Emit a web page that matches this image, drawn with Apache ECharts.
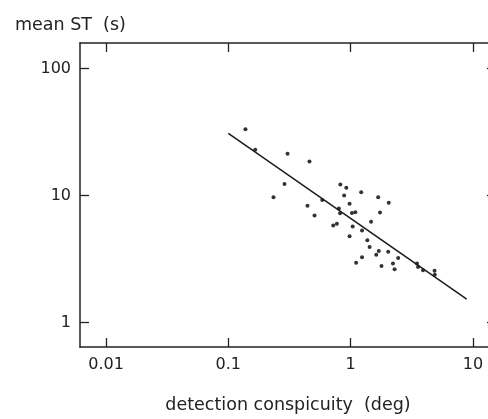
<!DOCTYPE html>
<html>
<head>
<meta charset="utf-8">
<script src="https://cdn.jsdelivr.net/npm/echarts@6/dist/echarts.min.js"></script>
<style>
  html, body { margin: 0; padding: 0; background: #fff; overflow: hidden; }
  /* the plot box runs a few px past the right edge of the window, as in the scan */
  #main { width: 497px; height: 419px; }
</style>
</head>
<body>
<div id="main"></div>
<script>
// detection conspicuity (deg) vs mean search time (s), both
var conspicuity = [0.138, 0.166, 0.305, 0.461, 0.288, 0.234, 0.444, 0.507, 0.721, 0.772,
    0.824, 0.922, 1.22, 0.885, 1.68, 0.586, 2.05, 0.981, 0.802, 0.820,
    1.74, 1.025, 1.093, 1.47, 1.04, 1.24, 0.981, 1.37, 1.43, 1.70,
    1.62, 2.03, 2.45, 1.24, 1.11, 1.79, 2.22, 2.29, 3.49, 3.56,
    3.91, 4.86, 4.88];
var meanST = [33.2, 22.9, 21.3, 18.5, 12.3, 9.7, 8.3, 6.95, 5.81, 5.99,
    12.2, 11.5, 10.6, 10.0, 9.7, 9.2, 8.75, 8.6, 7.91, 7.26,
    7.35, 7.29, 7.37, 6.22, 5.71, 5.29, 4.78, 4.44, 3.93, 3.66,
    3.41, 3.60, 3.22, 3.26, 2.96, 2.78, 2.91, 2.63, 2.92, 2.74,
    2.58, 2.55, 2.38];

// regression line end points
var fitX = [0.1, 8.9];
var fitY = [30.9, 1.53];

var xTickValues = [0.01, 0.1, 1, 10];
var xTickLabels = ['0.01', '0.1', '1', '10'];
var yTickValues = [1, 10, 100];
var yTickLabels = ['1', '10', '100'];

(function () {
    var myChart = echarts.init(document.getElementById('main'));

    var lg = function (v) { return Math.log10(v); };
    var xTicks = xTickValues.map(lg);
    var yTicks = yTickValues.map(lg);

    function labelOf(values, labels) {
        return function (v) {
            for (var i = 0; i < values.length; i++) {
                if (Math.abs(lg(values[i]) - v) < 1e-6) return labels[i];
            }
            return '';
        };
    }

    var points = conspicuity.map(function (x, i) { return [lg(x), lg(meanST[i])]; });
    var fitLine = fitX.map(function (x, i) { return [lg(x), lg(fitY[i])]; });

    var X_MIN = -2.213, X_MAX = 1.189;
    var Y_MIN = -0.193, Y_MAX = 2.201;
    var ink = '#222';
    var font = 'DejaVu Sans';

    function frameAxis(pos, ticks, min, max, withLabels, formatter) {
        return {
            type: 'value',
            position: pos,
            min: min,
            max: max,
            axisLine: { show: true, onZero: false, lineStyle: { color: ink, width: 1.5 } },
            axisTick: { show: true, inside: true, length: 9, customValues: ticks, lineStyle: { color: ink, width: 1.3 } },
            axisLabel: {
                show: withLabels,
                customValues: ticks,
                formatter: formatter,
                margin: 9,
                fontSize: 16,
                fontFamily: font,
                color: ink
            },
            splitLine: { show: false }
        };
    }

    var xBottom = frameAxis('bottom', xTicks, X_MIN, X_MAX, true, labelOf(xTickValues, xTickLabels));
    xBottom.axisLabel.margin = 10;
    xBottom.name = 'detection conspicuity  (deg)';
    xBottom.nameLocation = 'middle';
    xBottom.nameGap = 49;
    xBottom.nameTextStyle = { fontSize: 17.5, fontFamily: font, color: ink };

    var option = {
        backgroundColor: '#fff',
        animation: false,
        title: {
            text: 'mean ST  (s)',
            left: 10,
            top: 11,
            textStyle: { fontSize: 17.5, fontWeight: 'normal', fontFamily: font, color: ink }
        },
        grid: { left: 80, right: 1, top: 43, bottom: 66 },
        xAxis: [
            xBottom,
            frameAxis('top', xTicks, X_MIN, X_MAX, false)
        ],
        yAxis: [
            frameAxis('left', yTicks, Y_MIN, Y_MAX, true, labelOf(yTickValues, yTickLabels)),
            frameAxis('right', yTicks, Y_MIN, Y_MAX, false)
        ],
        series: [{
            type: 'scatter',
            data: points,
            symbol: 'circle',
            symbolSize: 4,
            itemStyle: { color: '#000' }
        }, {
            type: 'line',
            data: fitLine,
            showSymbol: false,
            symbol: 'none',
            lineStyle: { color: '#1a1a1a', width: 1.5 }
        }]
    };

    myChart.setOption(option);
    window.addEventListener("resize", function () {
        myChart.resize();
    });
})();
</script>
</body>
</html>
